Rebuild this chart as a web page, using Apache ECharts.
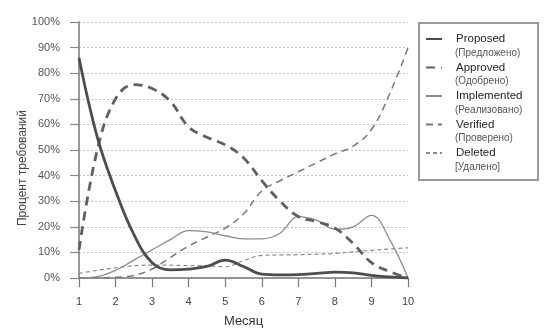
<!DOCTYPE html>
<html>
<head>
<meta charset="utf-8">
<script src="https://cdn.jsdelivr.net/npm/echarts@6/dist/echarts.min.js"></script>
<style>html,body{margin:0;padding:0;background:#fff;}#c{width:554px;height:329px;}</style>
</head>
<body>
<div id="c"></div>
<script>
var months = [1, 1.5, 2, 2.5, 3, 3.5, 4, 4.5, 5, 5.5, 6, 6.5, 7, 7.5, 8, 8.5, 9, 9.5, 10];
var monthTicks = [1, 2, 3, 4, 5, 6, 7, 8, 9, 10];
var proposed    = [86, 55, 34, 17, 6, 3.2, 3.5, 4.5, 7, 4.5, 1.5, 1.2, 1.3, 1.8, 2.3, 2, 1, 0.4, 0];
var approved    = [11, 50, 70, 75.5, 74, 69, 59, 55, 52, 47, 38, 30, 24, 22, 19.5, 13.5, 6, 2.5, 0];
var implemented = [0, 0.5, 3, 7, 11, 15, 18.5, 18, 16.5, 15.3, 15.3, 17.5, 24, 22.6, 19, 20, 24.5, 15, 0];
var verified    = [0, 0, 0.3, 1, 3.5, 8, 12.5, 16, 19.5, 25, 34, 38, 41.5, 45, 48.5, 51.5, 58, 72, 90];
var deleted     = [1.8, 3, 4, 4.8, 5, 5, 4.8, 4.8, 4.4, 6.8, 8.8, 9, 9.1, 9.3, 9.6, 10.2, 10.8, 11.3, 11.8];
var names = ['Proposed', 'Approved', 'Implemented', 'Verified', 'Deleted'];
var namesRu = ['(Предложено)', '(Одобрено)', '(Реализовано)', '(Проверено)', '[Удалено]'];

function pairs(arr) { return months.map(function (m, i) { return [m, arr[i]]; }); }

var FONT = '"Liberation Sans", Arial, sans-serif';
var chart = echarts.init(document.getElementById('c'), null, { renderer: 'canvas' });

var styles = [
  { color: '#4d4d4d', width: 2.8, type: 'solid' },
  { color: '#606060', width: 2.8, type: [9, 6] },
  { color: '#8c8c8c', width: 1.3, type: 'solid' },
  { color: '#777777', width: 1.5, type: [7, 5] },
  { color: '#8a8a8a', width: 1.2, type: [4, 3] }
];
var dataSets = [proposed, approved, implemented, verified, deleted];

var series = dataSets.map(function (d, i) {
  return {
    name: names[i],
    type: 'line',
    data: pairs(d),
    smooth: 0.4,
    symbol: 'circle',
    showSymbol: false,
    lineStyle: { color: styles[i].color, width: styles[i].width, type: styles[i].type },
    itemStyle: { color: styles[i].color },
    z: 10 - i
  };
});

var subTexts = namesRu.map(function (t, i) {
  return {
    type: 'text',
    left: 455,
    top: 48 + i * 28.5,
    style: { text: t, font: '10px ' + FONT, fill: '#555' },
    z: 100
  };
});

chart.setOption({
  animation: false,
  backgroundColor: '#fff',
  grid: { left: 79, right: 146, top: 22, bottom: 51, containLabel: false, outerBoundsMode: 'none' },
  xAxis: {
    type: 'value',
    min: 1, max: 10, interval: 1,
    name: 'Месяц',
    nameLocation: 'middle',
    nameGap: 37,
    nameMoveOverlap: false,
    nameTextStyle: { fontFamily: FONT, fontSize: 13, color: '#333' },
    axisLine: { show: true, lineStyle: { color: '#777', width: 1.5 } },
    axisTick: { show: true, length: 9, lineStyle: { color: '#777', width: 1.2 } },
    axisLabel: {
      margin: 18, fontFamily: FONT, fontSize: 11, color: '#444',
      customValues: monthTicks
    },
    splitLine: { show: false }
  },
  yAxis: {
    type: 'value',
    min: 0, max: 100, interval: 10,
    name: 'Процент требований',
    nameLocation: 'middle',
    nameGap: 50,
    nameMoveOverlap: false,
    nameRotate: 90,
    nameTextStyle: { fontFamily: FONT, fontSize: 12, color: '#444', padding: [0, 36, 0, 0] },
    axisLine: { show: true, lineStyle: { color: '#777', width: 1.5 } },
    axisTick: { show: true, length: 9, lineStyle: { color: '#888', width: 1.2 } },
    axisLabel: { margin: 19, fontFamily: FONT, fontSize: 11, color: '#555', formatter: '{value}%' },
    splitLine: { show: true, lineStyle: { color: '#c4c4c4', type: [2, 2], width: 1 } }
  },
  legend: {
    orient: 'vertical',
    left: 425,
    top: 33,
    padding: 0,
    itemWidth: 16,
    itemHeight: 14,
    itemGap: 16.5,
    data: names,
    itemStyle: { opacity: 0 },
    textStyle: { fontFamily: FONT, fontSize: 11.5, color: '#222', padding: [0, 0, 0, 9] },
    selectedMode: false
  },
  graphic: [
    {
      type: 'rect',
      shape: { x: 419, y: 23, width: 119, height: 157 },
      style: { fill: 'none', stroke: '#999', lineWidth: 2 },
      z: 100
    }
  ].concat(subTexts),
  series: series
});
</script>
</body>
</html>
